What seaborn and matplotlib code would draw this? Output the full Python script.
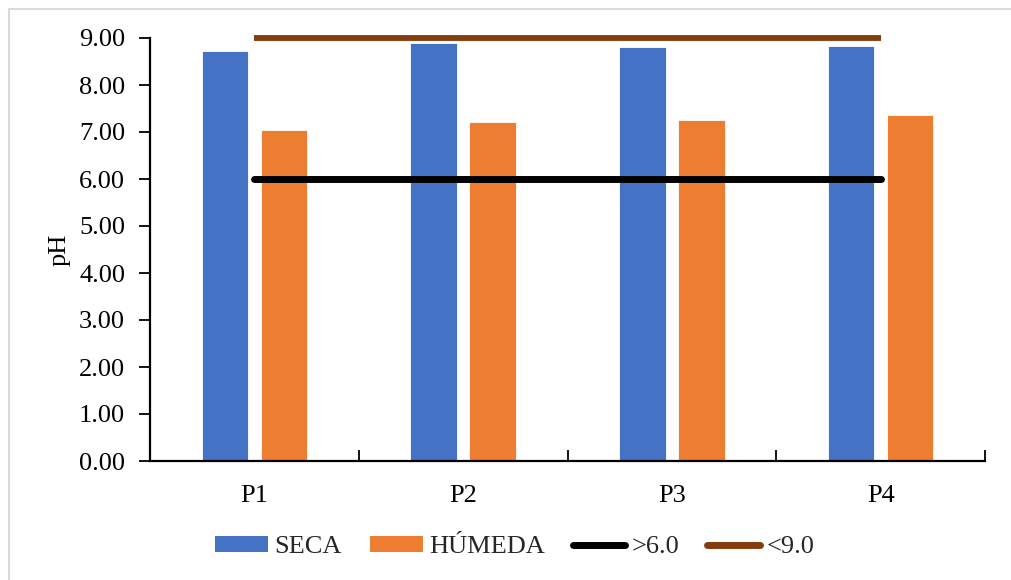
import numpy as np
import pandas as pd
import matplotlib
matplotlib.use("Agg")
import matplotlib.pyplot as plt
from matplotlib.patches import Rectangle, Patch
from matplotlib.lines import Line2D
import seaborn as sns

categories = ["P1", "P2", "P3", "P4"]
seca = [8.73, 8.90, 8.81, 8.84]
humeda = [7.04, 7.21, 7.26, 7.36]
lim_min = [6.0, 6.0, 6.0, 6.0]
lim_max = [9.0, 9.0, 9.0, 9.0]
series_names = ["SECA", "HÚMEDA"]
line_names = [">6.0", "<9.0"]
yticks = [0, 1, 2, 3, 4, 5, 6, 7, 8, 9]

c_blue = "#4472C4"
c_orange = "#ED7D31"
c_black = "#000000"
c_brown = "#843C0C"

sns.set_theme(style="white")
plt.rcParams["font.family"] = ["Liberation Serif", "DejaVu Serif"]
FS = 19

df = pd.DataFrame({
    "cat": categories * 2,
    "val": seca + humeda,
    "serie": [series_names[0]] * 4 + [series_names[1]] * 4,
})

fig = plt.figure(figsize=(10.12, 5.80), dpi=100)
ax = fig.add_axes([150 / 1012, 1 - 461 / 580, 835 / 1012, 423 / 580])

sns.barplot(data=df, x="cat", y="val", hue="serie", order=categories,
            hue_order=series_names, palette=[c_blue, c_orange],
            width=0.564, gap=0.21, saturation=1, errorbar=None,
            edgecolor="white", linewidth=0.6, legend=False, ax=ax)

pos = np.arange(len(categories))
sns.lineplot(x=pos, y=lim_min, color=c_black, linewidth=5, ax=ax,
             solid_capstyle="round", legend=False)
sns.lineplot(x=pos, y=lim_max, color=c_brown, linewidth=4.2, ax=ax,
             solid_capstyle="butt", legend=False)
for l in ax.lines:
    l.set_clip_on(False)

ax.set_xlim(-0.5, 3.5)
ax.set_ylim(0, 9)
ax.set_yticks(yticks)
ax.set_yticklabels([f"{v:.2f}" for v in yticks], fontsize=FS)
ax.set_xticks(pos)
ax.set_xticklabels(categories, fontsize=FS)
ax.set_xticks([-0.5, 0.5, 1.5, 2.5, 3.5], minor=True)
ax.tick_params(axis="x", which="major", length=0, pad=17, colors="black")
ax.tick_params(axis="x", which="minor", direction="in", length=8, width=1.3,
               color="black", bottom=True)
ax.tick_params(axis="y", which="major", direction="out", length=8, width=1.3,
               color="black", pad=10, left=True, labelcolor="black")
for s in ["top", "right"]:
    ax.spines[s].set_visible(False)
for s in ["left", "bottom"]:
    ax.spines[s].set_color("black")
    ax.spines[s].set_linewidth(1.6)
ax.set_xlabel("")
ax.set_ylabel("pH", fontsize=FS, color="black", labelpad=6)
ax.grid(False)

handles = [
    Patch(facecolor=c_blue, edgecolor="none"),
    Patch(facecolor=c_orange, edgecolor="none"),
    Line2D([0], [0], color=c_black, linewidth=5, solid_capstyle="round"),
    Line2D([0], [0], color=c_brown, linewidth=5, solid_capstyle="round"),
]
fig.legend(handles, series_names + line_names, loc="center",
           bbox_to_anchor=(515 / 1012, 1 - 547 / 580), ncol=4, frameon=False,
           fontsize=FS, handlelength=2.0, handleheight=0.6, handletextpad=0.25,
           columnspacing=1.05, borderaxespad=0)

fig.patches.append(Rectangle((9 / 1012, -0.1), 1.2, 0.1 + (580 - 9) / 580,
                             transform=fig.transFigure, fill=False,
                             edgecolor="#d9d9d9", linewidth=1.5))

fig.savefig("out.png", dpi=100, facecolor="white")
